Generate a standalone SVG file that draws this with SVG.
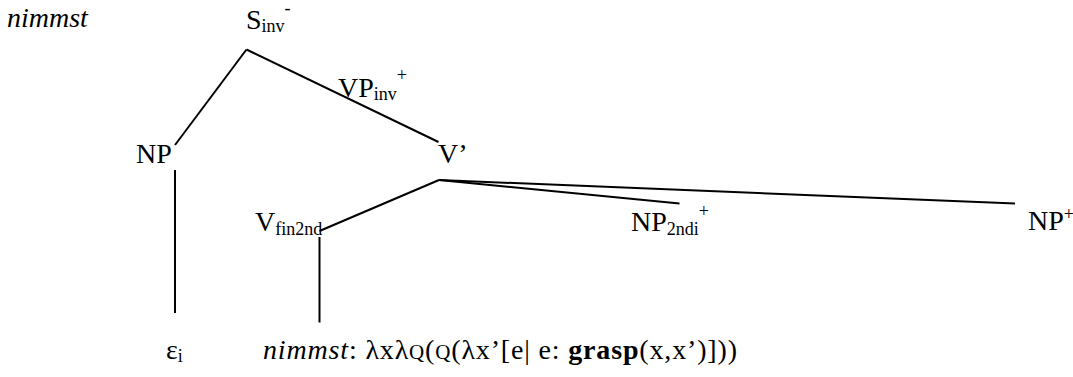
<svg xmlns="http://www.w3.org/2000/svg" width="1073" height="377" viewBox="0 0 1073 377" font-family="'Liberation Serif', 'Times New Roman', serif">
<style>
text{font-family:'Liberation Serif','Times New Roman',serif;fill:#000}
.m{font-size:28px}
.s{font-size:18px}
.it{font-style:italic}
.b{font-weight:bold}
.edge{stroke:#000;stroke-width:2;fill:none}
</style>
<rect width="1073" height="377" fill="#fff"/>
<g id="edges">
<line class="edge" x1="246.5" y1="49.5" x2="175" y2="145"/>
<line class="edge" x1="246.5" y1="49.5" x2="438.5" y2="142"/>
<line class="edge" x1="175" y1="170" x2="175" y2="313"/>
<line class="edge" x1="439" y1="180" x2="319.5" y2="231"/>
<line class="edge" x1="439" y1="180" x2="679.5" y2="203.5"/>
<line class="edge" x1="439" y1="180" x2="1015" y2="203.5"/>
<line class="edge" x1="319.5" y1="237" x2="319.5" y2="322.5"/>
</g>
<g id="label-nimmst"><text class="m it" x="7" y="27">nimmst</text></g>
<g id="node-S"><text class="m" x="246" y="29">S<tspan class="s" dy="3">inv</tspan><tspan class="s" dy="-18">-</tspan></text></g>
<g id="node-VP"><text class="m" x="338" y="97">VP<tspan class="s" dy="3">inv</tspan><tspan class="s" dy="-19">+</tspan></text></g>
<g id="node-NP"><text class="m" x="136" y="163">NP</text></g>
<g id="node-Vbar"><text class="m" x="438" y="163">V’</text></g>
<g id="node-Vfin"><text class="m" x="255" y="231">V<tspan class="s" dy="4">fin2nd</tspan></text></g>
<g id="node-NP2ndi"><text class="m" x="631" y="231">NP<tspan class="s" dy="3.5">2ndi</tspan><tspan class="s" dy="-18">+</tspan></text></g>
<g id="node-NPplus"><text class="m" x="1028" y="230">NP<tspan class="s" dy="-10">+</tspan></text></g>
<g id="leaf-eps"><text class="m" x="166" y="359">ε<tspan class="s" dy="3">i</tspan></text></g>
<g id="leaf-nimmst"><text class="m" x="263" y="359" textLength="474" lengthAdjust="spacing"><tspan class="it">nimmst</tspan>: λxλ<tspan font-size="21">Q</tspan>(<tspan font-size="21">Q</tspan>(λx’[e| e: <tspan class="b">grasp</tspan>(x,x’)]))</text></g>
</svg>
